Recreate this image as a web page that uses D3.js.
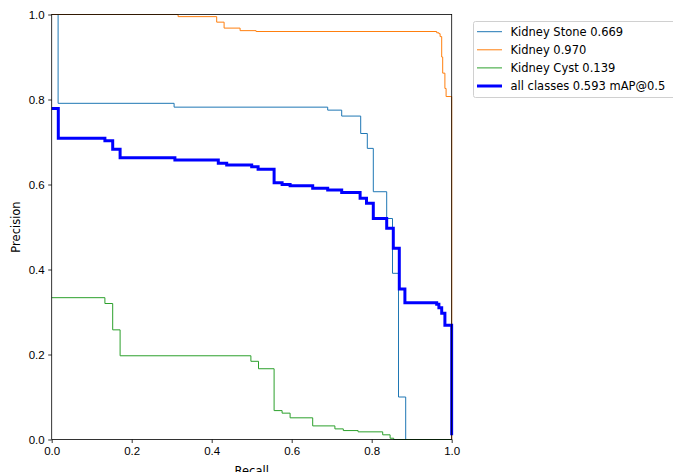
<!DOCTYPE html>
<html>
<head>
<meta charset="utf-8">
<script src="https://cdn.jsdelivr.net/npm/d3@7"></script>
<style>
  body { margin: 0; background: #fff; }
  svg { font-family: "DejaVu Sans", sans-serif; }
  .axis text { font-size: 11.5px; fill: #000; }
  .axis path, .axis line { stroke: #000; stroke-width: 0.8; }
</style>
</head>
<body>
<script>
// PR curves (recall, precision)
var stoneR = [0, 0.016, 0.306, 0.69, 0.725, 0.7725, 0.789, 0.804, 0.8375, 0.852, 0.867, 0.885, 1.0];
var stoneP = [1.0, 0.791, 0.782, 0.775, 0.761, 0.72, 0.685, 0.583, 0.52, 0.391, 0.10, 0.0, 0.0];

var kidneyR = [0, 0.316, 0.4125, 0.431, 0.471, 0.511, 0.9625, 0.968, 0.971, 0.975, 0.9775, 0.983, 0.986, 0.998, 1.0];
var kidneyP = [1.0, 0.995, 0.982, 0.968, 0.962, 0.96, 0.957, 0.955, 0.948, 0.9, 0.862, 0.826, 0.807, 0.807, 0.0];

var cystR = [0, 0.133, 0.1525, 0.171, 0.498, 0.517, 0.556, 0.576, 0.596, 0.6525, 0.708, 0.729, 0.766, 0.8275, 0.846, 0.855, 1.0];
var cystP = [0.3337, 0.32, 0.258, 0.197, 0.184, 0.1665, 0.068, 0.062, 0.051, 0.032, 0.025, 0.021, 0.018, 0.011, 0.003, 0.0, 0.0];

var allR = [0, 0.0165, 0.133, 0.1525, 0.171, 0.308, 0.4165, 0.4375, 0.5, 0.516, 0.556, 0.576, 0.596, 0.6525, 0.69, 0.725, 0.771, 0.787, 0.804, 0.8375, 0.854, 0.869, 0.883, 0.9625, 0.968, 0.975, 0.983, 0.999, 1.0];
var allP = [0.779, 0.709, 0.703, 0.683, 0.663, 0.6576, 0.65, 0.646, 0.642, 0.636, 0.604, 0.600, 0.597, 0.591, 0.587, 0.581, 0.5675, 0.556, 0.52, 0.497, 0.45, 0.354, 0.322, 0.318, 0.31, 0.297, 0.269, 0.269, 0.01];

var seriesNames = ["Kidney Stone 0.669", "Kidney 0.970", "Kidney Cyst 0.139", "all classes 0.593 mAP@0.5"];
var ticks = [0, 0.2, 0.4, 0.6, 0.8, 1.0];

var series = [
  {name: seriesNames[0], r: stoneR, p: stoneP, color: "#1f77b4", lw: 1},
  {name: seriesNames[1], r: kidneyR, p: kidneyP, color: "#ff7f0e", lw: 1},
  {name: seriesNames[2], r: cystR, p: cystP, color: "#2ca02c", lw: 1},
  {name: seriesNames[3], r: allR, p: allP, color: "#0000ff", lw: 3}
];

var W = 673, H = 472;
var pLeft = 51.7, pRight = 451.7, pTop = 14.5, pBottom = 439.5;

var svg = d3.select("body").append("svg")
    .attr("width", W)
    .attr("height", H);

var x = d3.scaleLinear().domain([0, 1]).range([pLeft, pRight]);
var y = d3.scaleLinear().domain([0, 1]).range([pBottom, pTop]);

svg.append("clipPath").attr("id", "clip")
  .append("rect")
    .attr("x", pLeft - 2).attr("y", pTop - 2)
    .attr("width", pRight - pLeft + 4).attr("height", pBottom - pTop + 4);

var line = d3.line()
    .x(function(d) { return x(d[0]); })
    .y(function(d) { return y(d[1]); })
    .curve(d3.curveStepAfter);

series.forEach(function(s) {
  var pts = s.r.map(function(r, i) { return [r, s.p[i]]; });
  svg.append("path")
      .attr("clip-path", "url(#clip)")
      .attr("d", line(pts))
      .attr("fill", "none")
      .attr("stroke", s.color)
      .attr("stroke-width", s.lw)
      .attr("stroke-linejoin", "miter");
});

// frame
svg.append("rect")
    .attr("x", pLeft).attr("y", pTop)
    .attr("width", pRight - pLeft).attr("height", pBottom - pTop)
    .attr("fill", "none")
    .attr("stroke", "#000")
    .attr("stroke-width", 0.8);

// axes
svg.append("g")
    .attr("class", "axis")
    .attr("transform", "translate(0," + pBottom + ")")
    .call(d3.axisBottom(x).tickValues(ticks).tickFormat(d3.format(".1f")).tickSize(3.5).tickPadding(3.5))
    .call(function(g) { g.select(".domain").remove(); });

svg.append("g")
    .attr("class", "axis")
    .attr("transform", "translate(" + pLeft + ",0)")
    .call(d3.axisLeft(y).tickValues(ticks).tickFormat(d3.format(".1f")).tickSize(3.5).tickPadding(3.5))
    .call(function(g) { g.select(".domain").remove(); });

// axis labels
svg.append("text")
    .attr("x", (pLeft + pRight) / 2)
    .attr("y", 475)
    .attr("text-anchor", "middle")
    .style("font-size", "11.5px")
    .text("Recall");

svg.append("text")
    .attr("transform", "translate(20," + ((pTop + pBottom) / 2) + ") rotate(-90)")
    .attr("text-anchor", "middle")
    .style("font-size", "11.5px")
    .text("Precision");

// legend
var legend = svg.append("g");
legend.append("rect")
    .attr("x", 473.5).attr("y", 21.5)
    .attr("width", 205).attr("height", 76)
    .attr("rx", 2)
    .attr("fill", "#fff")
    .attr("stroke", "#d0d0d0")
    .attr("stroke-width", 1);

series.forEach(function(s, i) {
  var yy = 31.7 + i * 18.1;
  legend.append("line")
      .attr("x1", 477).attr("x2", 502)
      .attr("y1", yy).attr("y2", yy)
      .attr("stroke", s.color)
      .attr("stroke-width", s.lw);
  legend.append("text")
      .attr("x", 510.5)
      .attr("y", yy)
      .attr("dy", "0.35em")
      .style("font-size", "11.5px")
      .text(s.name);
});
</script>
</body>
</html>
